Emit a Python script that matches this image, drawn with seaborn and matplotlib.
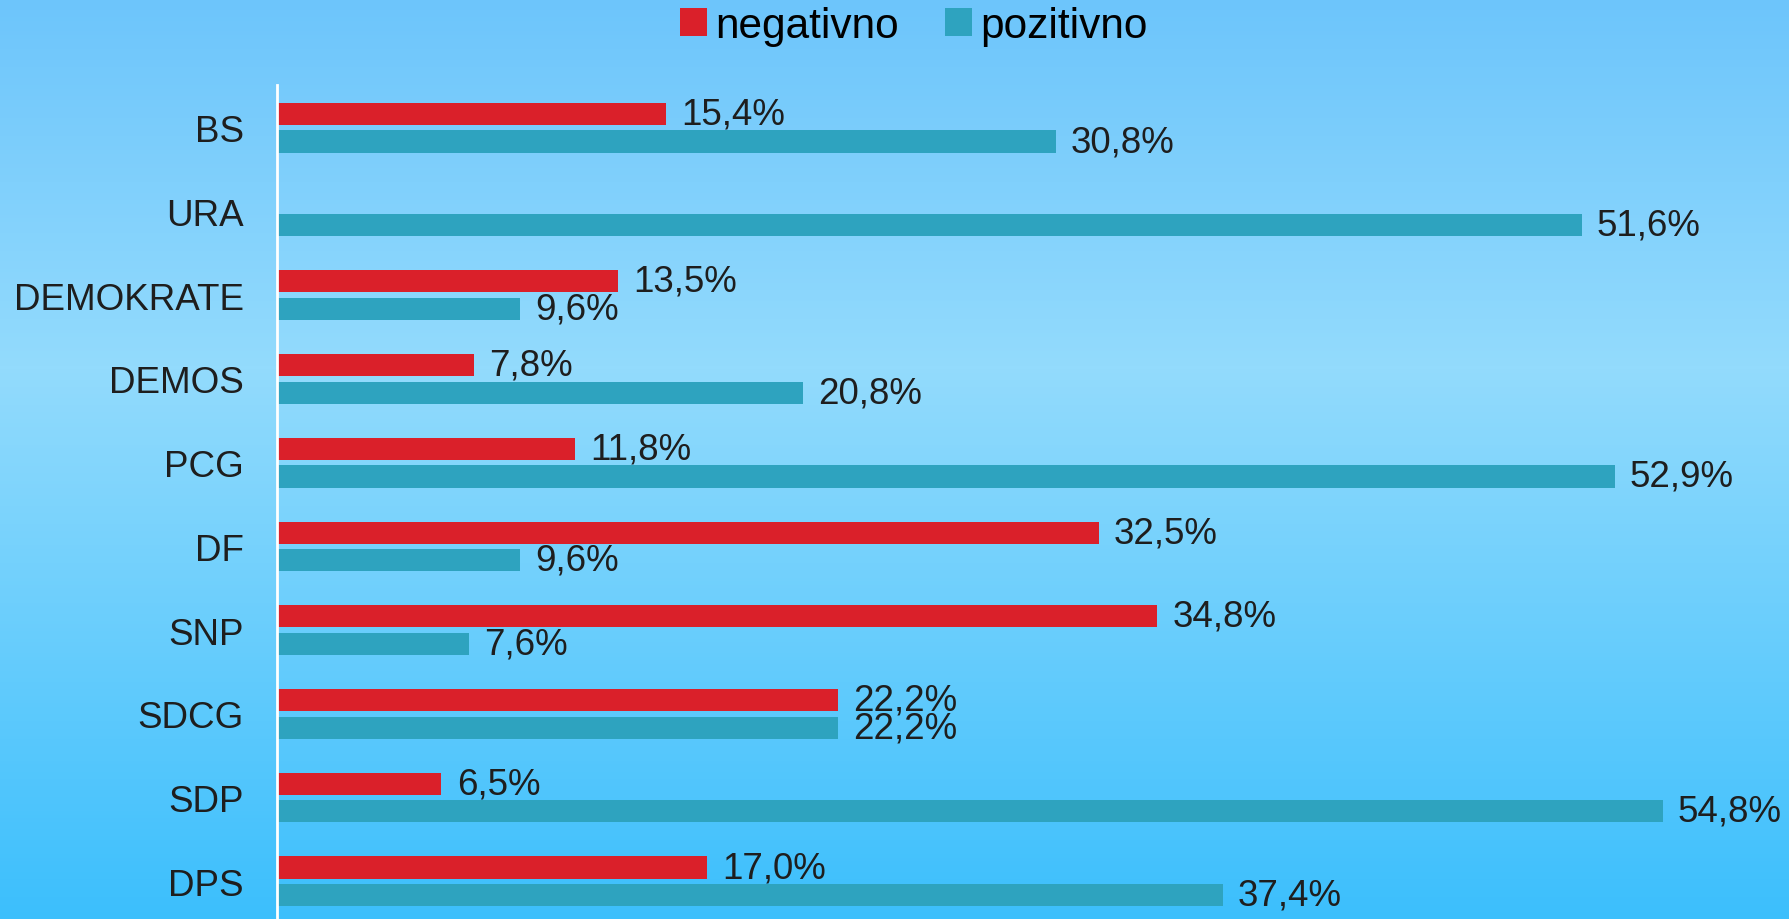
import numpy as np
import pandas as pd
import seaborn as sns
import matplotlib.pyplot as plt
from matplotlib.colors import LinearSegmentedColormap

# data (percent)
parties = ["BS", "URA", "DEMOKRATE", "DEMOS", "PCG", "DF", "SNP", "SDCG", "SDP", "DPS"]
negativno = [15.4, np.nan, 13.5, 7.8, 11.8, 32.5, 34.8, 22.2, 6.5, 17.0]
pozitivno = [30.8, 51.6, 9.6, 20.8, 52.9, 9.6, 7.6, 22.2, 54.8, 37.4]
series = ["negativno", "pozitivno"]
colors = ["#DA202A", "#2EA3BF"]

df = pd.DataFrame({"party": parties, "negativno": negativno, "pozitivno": pozitivno})
long = df.melt(id_vars="party", value_vars=series, var_name="ocjena", value_name="pct")

sns.set_theme(style="white")
plt.rcParams["font.family"] = ["Liberation Sans", "DejaVu Sans"]
text_col = "#1E1E1E"

fig = plt.figure(figsize=(17.89, 9.2), dpi=100)

# gradient background
bg = fig.add_axes([0, 0, 1, 1], zorder=0)
cmap = LinearSegmentedColormap.from_list(
    "bg", [(0, "#6DC5FB"), (0.4, "#93DBFD"), (1, "#3CBFFC")])
bg.imshow(np.linspace(0, 1, 256).reshape(-1, 1), aspect="auto", cmap=cmap,
          extent=[0, 1, 0, 1], origin="upper")
bg.axis("off")

left = 277 / 1789
ax = fig.add_axes([left, 0, 1 - left, 834 / 920], zorder=1)
ax.patch.set_alpha(0)

sns.barplot(data=long, y="party", x="pct", hue="ocjena", order=parties,
            hue_order=series, palette=colors, orient="h", width=0.66, gap=0.2,
            saturation=1, linewidth=0, ax=ax, legend=True)

for cont in ax.containers:
    labels = ["" if np.isnan(v) else f"{v:.1f}%".replace(".", ",") for v in cont.datavalues]
    ax.bar_label(cont, labels=labels, padding=11, fontsize=26.5, color=text_col)

ax.set_xlim(0, 59.8)
ax.set_ylim(9.45, -0.51)
ax.set_xlabel("")
ax.set_ylabel("")
ax.set_xticks([])
ax.tick_params(axis="y", length=0, pad=24, labelsize=26.5, labelcolor=text_col)
for s in ["top", "right", "bottom"]:
    ax.spines[s].set_visible(False)
ax.spines["left"].set_color("white")
ax.spines["left"].set_linewidth(2)

ax.legend_.remove()
handles, lbls = ax.get_legend_handles_labels()
for h in handles:
    h.set_linewidth(0)
fig.legend(handles, lbls, loc="center", bbox_to_anchor=(914 / 1789, 1 - 27 / 920),
           ncol=2, frameon=False, fontsize=30.5, handlelength=0.62, handleheight=0.62,
           handletextpad=0.2, columnspacing=1.1, labelcolor="black")

fig.savefig("out.png", dpi=100)
